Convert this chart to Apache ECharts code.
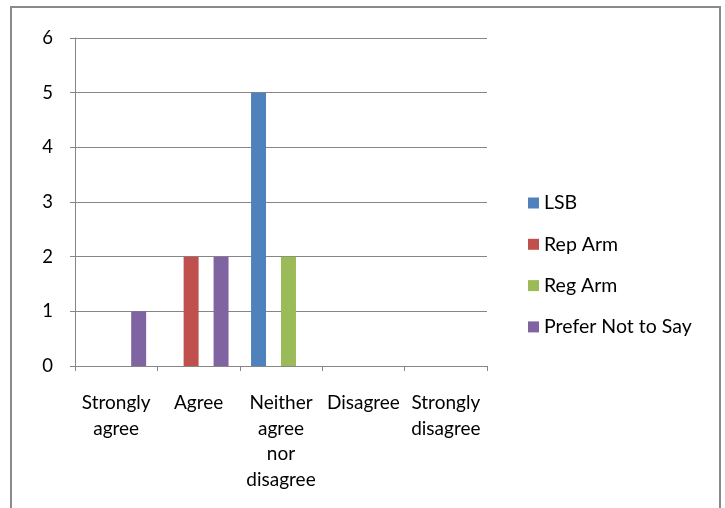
<!DOCTYPE html>
<html>
<head>
<meta charset="utf-8">
<script src="https://cdn.jsdelivr.net/npm/echarts@6/dist/echarts.min.js"></script>
<style>
  html, body { margin: 0; padding: 0; background: #ffffff; }
  #chart { width: 725px; height: 508px; }
</style>
</head>
<body>
<div id="chart"></div>
<script>
// Survey response categories and their wrapped axis labels
const categories = ['Strongly agree', 'Agree', 'Neither agree nor disagree', 'Disagree', 'Strongly disagree'];
const tickLabels = ['Strongly\nagree', 'Agree', 'Neither\nagree\nnor\ndisagree', 'Disagree', 'Strongly\ndisagree'];

// Response counts per group
const lsb = [0, 0, 5, 0, 0];
const repArm = [0, 2, 0, 0, 0];
const regArm = [0, 0, 2, 0, 0];
const preferNotToSay = [1, 2, 0, 0, 0];

const seriesNames = ['LSB', 'Rep Arm', 'Reg Arm', 'Prefer Not to Say'];
const seriesData = [lsb, repArm, regArm, preferNotToSay];
const colors = ['#4F81BD', '#C0504D', '#9BBB59', '#8064A2'];

const yTicks = [0, 1, 2, 3, 4, 5, 6];

const FONT = 'Lato';
const FS = 18.5;
const chart = echarts.init(document.getElementById('chart'), null, { renderer: 'canvas' });

chart.setOption({
  animation: false,
  backgroundColor: '#ffffff',
  color: colors,
  textStyle: { fontFamily: FONT },
  graphic: [{
    type: 'rect',
    shape: { x: 11, y: 7, width: 709, height: 520 },
    style: { fill: 'none', stroke: '#8a8a8a', lineWidth: 2 },
    silent: true,
    z: -1
  }],
  grid: { left: 75, right: 238, top: 38, bottom: 142, containLabel: false },
  legend: {
    orient: 'vertical',
    left: 528,
    top: 193,
    itemWidth: 11,
    itemHeight: 11,
    itemGap: 21.3,
    icon: 'rect',
    padding: 0,
    textStyle: { fontFamily: FONT, fontSize: 19.5, lineHeight: 20, color: '#000000' },
    data: seriesNames
  },
  xAxis: {
    type: 'category',
    data: categories,
    axisLine: { show: true, lineStyle: { color: '#868686', width: 1 } },
    axisTick: { show: true, length: 5, interval: 0, lineStyle: { color: '#868686' } },
    axisLabel: {
      interval: 0,
      margin: 24,
      fontFamily: FONT,
      fontSize: 19,
      lineHeight: 25.7,
      color: '#000000',
      formatter: (v, i) => tickLabels[i]
    },
    splitLine: { show: false }
  },
  yAxis: {
    type: 'value',
    min: 0,
    max: 6,
    interval: 1,
    axisLine: { show: true, lineStyle: { color: '#868686', width: 1 } },
    axisTick: { show: true, length: 5, lineStyle: { color: '#868686' } },
    axisLabel: {
      margin: 22,
      fontFamily: FONT,
      fontSize: FS,
      color: '#000000',
      formatter: v => yTicks.includes(v) ? String(v) : ''
    },
    splitLine: { show: true, lineStyle: { color: '#868686', width: 1 } }
  },
  series: seriesNames.map((name, i) => ({
    name,
    type: 'bar',
    data: seriesData[i],
    barGap: '0%',
    barCategoryGap: '27.3%',
    itemStyle: { color: colors[i] }
  }))
});
</script>
</body>
</html>
